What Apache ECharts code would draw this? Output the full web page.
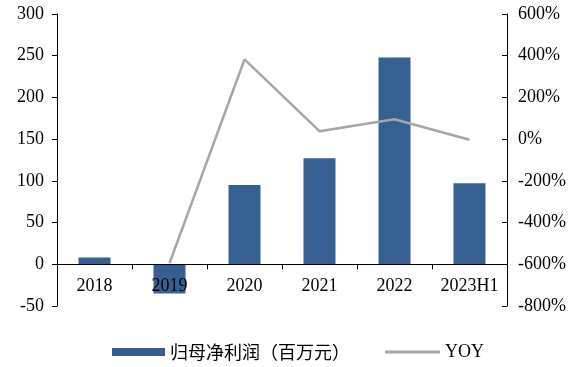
<!DOCTYPE html>
<html><head><meta charset="utf-8">
<script src="https://cdn.jsdelivr.net/npm/echarts@6/dist/echarts.min.js"></script>
<style>html,body{margin:0;padding:0;background:#fff}#c{width:581px;height:367px}</style>
</head><body><div id="c"></div>
<script>
const categories = ['2018','2019','2020','2021','2022','2023H1'];
const profit = [8, -35, 95, 127, 248, 97];
const yoy = [null, -595, 382, 38, 95, -3];
const barName = '归母净利润（百万元）';
const lineName = 'YOY';
const serif = '"Liberation Serif","Times New Roman",serif';
const chart = echarts.init(document.getElementById('c'));
chart.setOption({
  animation: false,
  grid: {left: 57, right: 74, top: 14, bottom: 61},
  legend: [{
    top: 343, left: 112, padding: 0, itemWidth: 53, itemHeight: 8,
    textStyle: {fontFamily: '"Noto Sans CJK SC",' + serif, fontSize: 18, color: '#000'},
    data: [{name: barName, icon: 'rect'}]
  }, {
    top: 343, left: 385, padding: 0, itemWidth: 55, itemHeight: 3,
    textStyle: {fontFamily: serif, fontSize: 18, color: '#000'},
    data: [{name: lineName, icon: 'rect'}]
  }],
  xAxis: {
    type: 'category', data: categories, z: 10,
    axisLine: {onZero: true, onZeroAxisIndex: 0, lineStyle: {color: '#000', width: 1}},
    axisTick: {show: true, length: 5, lineStyle: {color: '#000'}},
    axisLabel: {fontFamily: serif, fontSize: 18, color: '#000', margin: -29, interval: 0, hideOverlap: false}
  },
  yAxis: [{
    type: 'value', min: -50, max: 300, interval: 50,
    splitLine: {show: false},
    axisLine: {show: true, lineStyle: {color: '#000'}},
    axisTick: {show: true, length: 5, lineStyle: {color: '#000'}},
    axisLabel: {fontFamily: serif, fontSize: 18, color: '#000', margin: 13}
  }, {
    type: 'value', min: -800, max: 600, interval: 200,
    splitLine: {show: false},
    axisLine: {show: true, lineStyle: {color: '#000'}},
    axisTick: {show: true, inside: true, length: 5, lineStyle: {color: '#000'}},
    axisLabel: {fontFamily: serif, fontSize: 18, color: '#000', margin: 11, formatter: v => v + '%'}
  }],
  series: [{
    name: barName, type: 'bar', data: profit, barWidth: 32,
    itemStyle: {color: '#376092'}
  }, {
    name: lineName, type: 'line', yAxisIndex: 1, data: yoy,
    symbol: 'none', lineStyle: {color: '#a6a6a6', width: 2.5},
    itemStyle: {color: '#a6a6a6'}
  }]
});
</script></body></html>
